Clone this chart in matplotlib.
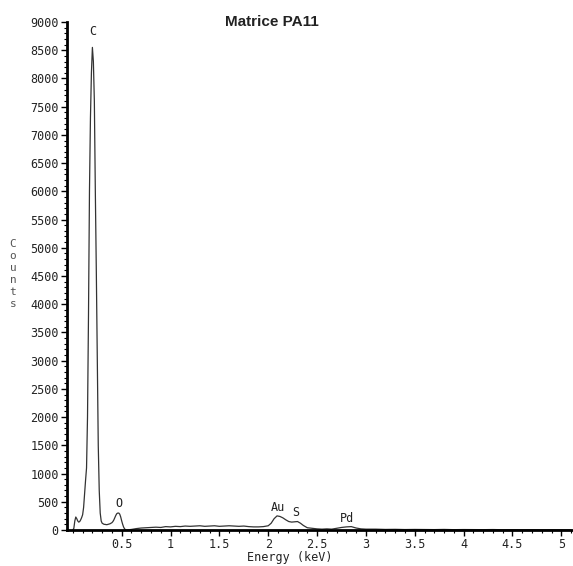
import matplotlib
matplotlib.use("Agg")
import matplotlib.pyplot as plt
from matplotlib.ticker import MultipleLocator, FixedLocator

# ---- data ----
energy_low = [0.00, 0.01, 0.02, 0.03, 0.04, 0.05, 0.06, 0.07, 0.08, 0.09,
              0.10, 0.11, 0.12, 0.13, 0.14, 0.15, 0.16, 0.17, 0.18, 0.19,
              0.20, 0.21, 0.22, 0.23, 0.24, 0.25, 0.26, 0.27, 0.28, 0.29,
              0.30, 0.31, 0.32, 0.33, 0.34, 0.35, 0.36, 0.37, 0.38, 0.39,
              0.40, 0.41, 0.42, 0.43, 0.44, 0.45, 0.46, 0.47, 0.48, 0.49,
              0.50, 0.51, 0.52, 0.53, 0.54, 0.55]
counts_low = [0, 30, 160, 230, 200, 160, 140, 150, 180, 220,
              270, 400, 650, 880, 1100, 2000, 3800, 6000, 7300, 8100,
              8550, 8300, 7600, 6000, 4600, 3000, 1500, 700, 300, 160,
              120, 110, 100, 100, 95, 95, 100, 105, 110, 120,
              130, 150, 180, 220, 260, 290, 300, 300, 280, 230,
              160, 100, 50, 20, 5, 0]

energy_high = [0.60, 0.65, 0.70, 0.75, 0.80, 0.85, 0.90, 0.95, 1.00, 1.05,
               1.10, 1.15, 1.20, 1.25, 1.30, 1.35, 1.40, 1.45, 1.50, 1.55,
               1.60, 1.65, 1.70, 1.75, 1.80, 1.85, 1.90, 1.95, 2.00, 2.03,
               2.06, 2.09, 2.12, 2.15, 2.18, 2.21, 2.24, 2.27, 2.30, 2.33,
               2.36, 2.40, 2.45, 2.50, 2.55, 2.60, 2.65, 2.70, 2.75, 2.80,
               2.85, 2.90, 2.95, 3.00, 3.10, 3.20, 3.30, 3.40, 3.50, 3.60,
               3.70, 3.80, 3.90, 4.00, 4.10, 4.20, 4.30, 4.40, 4.50, 4.60,
               4.70, 4.80, 4.90, 5.00, 5.10]
counts_high = [10, 25, 35, 40, 45, 50, 45, 60, 55, 65,
               60, 70, 65, 70, 75, 65, 70, 75, 65, 70,
               75, 70, 65, 70, 60, 55, 55, 60, 75, 120,
               200, 250, 240, 215, 180, 150, 140, 145, 150, 120,
               80, 40, 30, 20, 15, 20, 15, 30, 45, 55,
               60, 35, 20, 15, 15, 10, 12, 8, 10, 9,
               7, 10, 6, 8, 7, 6, 8, 5, 6, 5,
               6, 4, 5, 4, 3]

peak_labels = ["C", "O", "Au", "S", "Pd"]
peak_label_x = [0.20, 0.47, 2.10, 2.28, 2.81]
peak_label_y = [8720, 360, 280, 200, 80]

title = "Matrice PA11"
xlabel = "Energy (keV)"
ylabel = "Counts"
x_major_ticks = [0.5, 1, 1.5, 2, 2.5, 3, 3.5, 4, 4.5, 5]
x_tick_labels = ["0.5", "1", "1.5", "2", "2.5", "3", "3.5", "4", "4.5", "5"]

energy = energy_low + energy_high
counts = counts_low + counts_high

# ---- figure ----
W, H = 573, 566
fig = plt.figure(figsize=(W / 100, H / 100), dpi=100)
ax = fig.add_axes([67 / W, (H - 530) / H, (W - 67) / W, (530 - 22) / H])

mono = "DejaVu Sans Mono"
ax.plot(energy, counts, color="#333333", lw=0.9)

ax.set_xlim(-0.06, 5.12)
ax.set_ylim(0, 9000)

for s in ["top", "right"]:
    ax.spines[s].set_visible(False)
ax.spines["left"].set_linewidth(2.0)
ax.spines["bottom"].set_linewidth(2.0)

ax.yaxis.set_major_locator(MultipleLocator(500))
ax.yaxis.set_minor_locator(MultipleLocator(100))
ax.xaxis.set_major_locator(FixedLocator(x_major_ticks))
ax.xaxis.set_minor_locator(MultipleLocator(0.1))
ax.set_xticklabels(x_tick_labels)

ax.tick_params(axis="both", which="major", direction="out", length=4, width=1,
               labelsize=8.5, pad=2)
ax.tick_params(axis="both", which="minor", direction="out", length=2.5, width=0.8)
for lab in ax.get_xticklabels() + ax.get_yticklabels():
    lab.set_fontfamily(mono)
    lab.set_color("#222222")

for t, x, y in zip(peak_labels, peak_label_x, peak_label_y):
    ax.text(x, y, t, fontfamily=mono, fontsize=8.5, ha="center", va="bottom",
            color="#222222")

fig.text(272 / W, 1 - 22 / H, title, fontfamily="Liberation Sans",
         fontweight="bold", fontsize=11, ha="center", va="center", color="#222222")
fig.text(290 / W, 1 - 557 / H, xlabel, fontfamily=mono, fontsize=8.5,
         ha="center", va="center", color="#222222")
fig.text(13 / W, 1 - 274 / H, "\n".join(ylabel), fontfamily=mono, fontsize=8,
         ha="center", va="center", color="#555555", linespacing=1.25)

fig.savefig("out.png", dpi=100)
